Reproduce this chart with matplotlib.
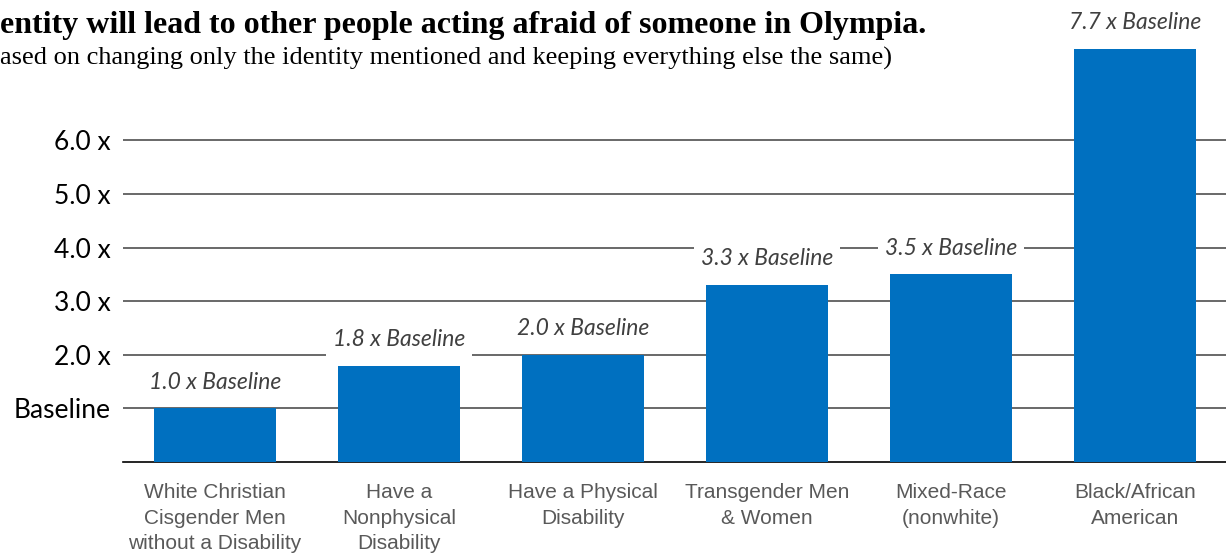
import matplotlib
matplotlib.use("Agg")
import matplotlib.pyplot as plt
from matplotlib import font_manager

# data
categories = [
    "White Christian\nCisgender Men\nwithout a Disability",
    "Have a\nNonphysical\nDisability",
    "Have a Physical\nDisability",
    "Transgender Men\n& Women",
    "Mixed-Race\n(nonwhite)",
    "Black/African\nAmerican",
]
values = [1.0, 1.8, 2.0, 3.3, 3.5, 7.7]
ytick_values = [1, 2, 3, 4, 5, 6]
ytick_labels = ["Baseline", "2.0 x", "3.0 x", "4.0 x", "5.0 x", "6.0 x"]

title_line = "entity will lead to other people acting afraid of someone in Olympia."
subtitle_line = "ased on changing only the identity mentioned and keeping everything else the same)"

names = {f.name for f in font_manager.fontManager.ttflist}
narrow = "Liberation Sans Narrow" if "Liberation Sans Narrow" in names else "Liberation Sans"
cat_size = 14 if narrow == "Liberation Sans Narrow" else 15

W, H = 1226, 554
fig = plt.figure(figsize=(W / 100, H / 100), dpi=100)
ax = fig.add_axes([123 / W, (H - 462) / H, 1104 / W, 462 / H])

bar_color = "#0070C0"
ax.bar(range(len(values)), values, width=0.663, color=bar_color, zorder=3)

ax.set_xlim(-0.5, 5.5)
ax.set_ylim(0, 462 / 53.6)

ax.set_yticks(ytick_values)
ax.set_yticklabels(ytick_labels, fontfamily="Lato", fontsize=19, color="black")
ax.tick_params(axis="y", length=0, pad=9)
ax.yaxis.grid(True, color="#404040", linewidth=1.1, zorder=1)
ax.set_axisbelow(True)

ax.set_xticks(range(len(categories)))
ax.set_xticklabels(categories, fontfamily=narrow, fontsize=cat_size, color="#595959",
                   linespacing=1.45)
ax.tick_params(axis="x", length=0, pad=15)

for s in ["top", "right", "left"]:
    ax.spines[s].set_visible(False)
ax.spines["bottom"].set_color("black")
ax.spines["bottom"].set_linewidth(1.2)

for i, v in enumerate(values):
    ax.annotate(f"{v:.1f} x Baseline", (i, v), xytext=(0, 19), textcoords="offset points",
                ha="center", va="center", fontfamily="Lato", fontstyle="italic",
                fontsize=16.5, color="#404040", zorder=5,
                bbox=dict(boxstyle="square,pad=0.3", fc="white", ec="none"))

fig.text(0, 1 - 25 / H, title_line, fontfamily="Liberation Serif", fontweight="bold",
         fontsize=23, color="black", ha="left", va="center")
fig.text(0, 1 - 58 / H, subtitle_line, fontfamily="Liberation Serif",
         fontsize=19, color="black", ha="left", va="center")

fig.savefig("out.png", dpi=100)
